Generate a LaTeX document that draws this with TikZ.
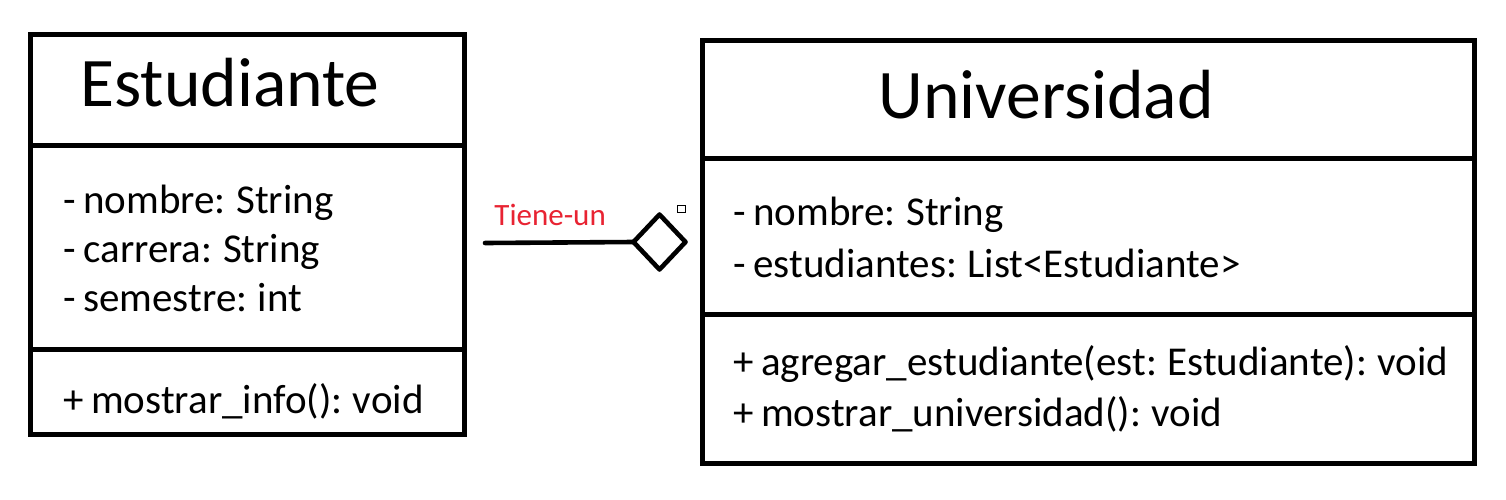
\documentclass[tikz,border=0pt]{standalone}
\usepackage{fontspec}
\setmainfont{Carlito}[WordSpace=0.8]
\usetikzlibrary{shapes.geometric}
\definecolor{labelred}{RGB}{232,35,50}
\begin{document}
\begin{tikzpicture}[x=0.5pt,y=-0.5pt,
  part/.style={draw=black, line width=2.5pt, rectangle, anchor=north west, inner sep=0pt, outer sep=0pt},
  titletext/.style={anchor=base west, inner sep=0pt, font=\fontsize{34.8pt}{40pt}\selectfont},
  membertext/.style={anchor=base west, inner sep=0pt, font=\fontsize{20.5pt}{24pt}\selectfont},
  conn/.style={draw=black, line width=2.3pt, line cap=round, line join=round},
  rel/.style={anchor=base west, inner sep=0pt, text=labelred, font=\fontsize{15.5pt}{18pt}\selectfont}]
\useasboundingbox (0,0) rectangle (1506,499);
\fill[white] (0,0) rectangle (1506,499);
% Estudiante
\node[part, minimum width=217pt, minimum height=55.5pt] (eT) at (30,34) {};
\node[part, minimum width=217pt, minimum height=102pt] (eA) at (30,145) {};
\node[part, minimum width=217pt, minimum height=42.5pt] (eM) at (30,349) {};
\node[titletext] (eName) at (80,106) {Estudiante};
\node[membertext] (eA1) at (63,213) {- nombre: String};
\node[membertext] (eA2) at (63,262) {- carrera: String};
\node[membertext] (eA3) at (63,311) {- semestre: int};
\node[membertext] (eM1) at (63,413) {+ mostrar\_info(): void};
% Universidad
\node[part, minimum width=386pt, minimum height=59pt] (uT) at (702,40) {};
\node[part, minimum width=386pt, minimum height=78pt] (uA) at (702,158) {};
\node[part, minimum width=386pt, minimum height=74.5pt] (uM) at (702,314) {};
\node[titletext] (uName) at (878,118) {Universidad};
\node[membertext] (uA1) at (733,225) {- nombre: String};
\node[membertext] (uA2) at (733,277) {- estudiantes: List<Estudiante>};
\node[membertext] (uM1) at (733,375) {+ agregar\_estudiante(est: Estudiante): void};
\node[membertext] (uM2) at (733,426) {+ mostrar\_universidad(): void};
% Aggregation
\coordinate (cStart) at (485,243);
\node[diamond, draw=black, line width=2.3pt, line join=round, inner sep=0pt, outer sep=0pt, minimum width=26pt, minimum height=27.5pt] (dia) at (659.5,242) {};
\draw[conn] (cStart) -- (dia.west);
\node[rectangle, draw=black, line width=0.5pt, inner sep=0pt, minimum size=3.8pt] (handle) at (681.5,209) {};
\node[rel] (relLabel) at (494,225) {Tiene-un};
\end{tikzpicture}
\end{document}
